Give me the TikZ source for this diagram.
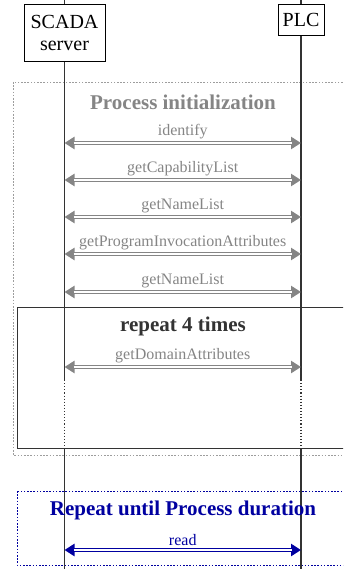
\documentclass[tikz,border=0pt]{standalone}
\usepackage{fontspec}
\setmainfont{Liberation Serif}
\usetikzlibrary{arrows.meta}

\definecolor{msggray}{HTML}{858585}
\definecolor{linegray}{HTML}{333333}
\definecolor{loopblue}{HTML}{0000A0}

\tikzset{
	actor/.style={draw,fill=white,line width=0.9pt,font=\fontsize{20}{22}\selectfont,
		align=center,inner sep=0pt},
	lifeline/.style={draw=linegray,line width=1.1pt},
	msg/.style={draw=msggray,line width=4pt,
		{Triangle[length=10pt 0,width=12pt 0]}-{Triangle[length=10pt 0,width=12pt 0]},
		postaction={draw=white,line width=1.5pt,-,shorten <=9pt,shorten >=9pt}},
	msglbl/.style={text=msggray,font=\fontsize{16}{16}\selectfont,inner sep=2pt},
	frametitle/.style={font=\bfseries\fontsize{21}{22}\selectfont}
}

\begin{document}
\begin{tikzpicture}[x=1pt,y=-1pt]
\useasboundingbox (0,0) rectangle (343,569);
\clip (0,0) rectangle (343,569);

% frames
\draw[msggray!80,line width=0.9pt,dash pattern=on 1.6pt off 1.6pt] (13,82) rectangle (360,455);
\draw[linegray,line width=1pt] (17,307) rectangle (360,448);
\draw[loopblue,line width=0.9pt,dash pattern=on 1.6pt off 1.6pt] (17,491) rectangle (360,565);

% lifelines
\coordinate (stop) at (64.5,0);
\coordinate (ptop) at (301,0);
\coordinate (sdash) at (64.5,380);
\coordinate (pdash) at (301,380);
\coordinate (sback) at (64.5,449);
\coordinate (pback) at (301,449);
\coordinate (send) at (64.5,569);
\coordinate (pend) at (301,569);
\draw[lifeline] (stop) -- (sdash) (ptop) -- (pdash);
\draw[lifeline,dotted] (sdash) -- (sback) (pdash) -- (pback);
\draw[lifeline] (sback) -- (send) (pback) -- (pend);

% actors
\node[actor,minimum width=81pt,minimum height=57pt] (scada) at (64.5,32.5) {SCADA\\server};
\node[actor,minimum width=46pt,minimum height=31pt] (plc) at (301,19.5) {PLC};

% process initialization
\node[frametitle,text=msggray] (init) at (183,102) {Process initialization};
\foreach \y/\lbl [count=\i] in {143/identify,180/getCapabilityList,217/getNameList,
	254/getProgramInvocationAttributes,292/getNameList,367/getDomainAttributes} {
	\coordinate (s\i) at (64.5,\y);
	\coordinate (p\i) at (301,\y);
	\draw[msg] (s\i) -- node[above,msglbl] {\lbl} (p\i);
}

% repeat
\node[frametitle,text=linegray] (rep) at (183,326) {repeat 4 times};

% read loop
\node[frametitle,text=loopblue] (until) at (183,510) {Repeat until Process duration};
\coordinate (sread) at (64.5,550);
\coordinate (pread) at (301,550);
\draw[msg,draw=loopblue] (sread) -- node[above,msglbl,text=loopblue] {read} (pread);
\end{tikzpicture}
\end{document}
